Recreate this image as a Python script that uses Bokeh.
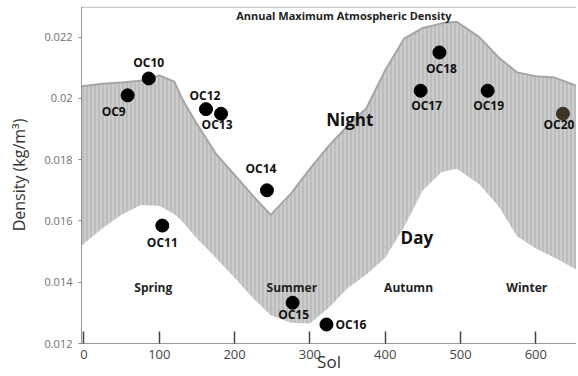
from bokeh.plotting import figure
from bokeh.models import ColumnDataSource, Range1d, FixedTicker, Span
from bokeh.core.properties import value
from bokeh.embed import file_html
from bokeh.resources import INLINE

# ---- data ----
sol_grid = [-3, 25, 50, 75, 100, 120, 130, 150, 175, 200, 225, 248, 275, 300, 325,
            350, 375, 400, 425, 450, 475, 495, 525, 550, 575, 600, 625, 655]
band_upper = [0.0204, 0.02048, 0.02052, 0.02058, 0.02075, 0.02055, 0.0200, 0.01916,
              0.0182, 0.0175, 0.0168, 0.0162, 0.0169, 0.0177, 0.01845, 0.0191,
              0.01968, 0.02092, 0.02195, 0.0223, 0.02245, 0.0225, 0.0220, 0.02135,
              0.02085, 0.02072, 0.02068, 0.0204]
band_lower = [0.0152, 0.01577, 0.0162, 0.01652, 0.0165, 0.01622, 0.0160, 0.01543,
              0.0148, 0.01415, 0.01347, 0.01292, 0.01268, 0.01265, 0.01317, 0.0138,
              0.01425, 0.0148, 0.0158, 0.0170, 0.0176, 0.0177, 0.0172, 0.0165,
              0.0155, 0.0151, 0.0148, 0.0144]

oc_names = ["OC9", "OC10", "OC11", "OC12", "OC13", "OC14", "OC15", "OC16",
            "OC17", "OC18", "OC19", "OC20"]
oc_sol = [58, 86, 104, 162, 182, 243, 277, 322, 447, 472, 536, 636]
oc_density = [0.0201, 0.02065, 0.01585, 0.01965, 0.0195, 0.0170, 0.01333, 0.01262,
              0.02025, 0.0215, 0.02025, 0.0195]

x_ticks = [0, 100, 200, 300, 400, 500, 600]
y_ticks = [0.012, 0.014, 0.016, 0.018, 0.02, 0.022]
y_tick_labels = ["0.012", "0.014", "0.016", "0.018", "0.02", "0.022"]

# ---- styling / layout (not data) ----
oc_colors = ["#000000"] * 11 + ["#3d3423"]
label_dx = [-14, 0, 0, -1, -4, -6, 1, 9, 6, 2, 1, -4]
label_dy = [16, -16, 17, -14, 11, -22, 12, 0, 15, 16, 15, 11]
label_align = ["center"] * 7 + ["left"] + ["center"] * 4

FONT = value("Open Sans")

p = figure(width=576, height=375, output_backend="svg", toolbar_location=None,
           x_range=Range1d(-3.3, 654), y_range=Range1d(0.012, 0.023),
           min_border_left=81, min_border_right=0, min_border_top=6,
           min_border_bottom=31)
p.outline_line_color = None
p.grid.visible = False
p.background_fill_color = "white"

# band of daily density variation
p.varea(x=sol_grid, y1=band_lower, y2=band_upper, fill_color="#cccccc",
        hatch_pattern="vertical_line", hatch_color="#8a8a8a", hatch_alpha=0.45,
        hatch_scale=4, hatch_weight=1)
p.line(sol_grid, band_upper, line_color="#a5a5a5", line_width=2)

src = ColumnDataSource(dict(x=oc_sol, y=oc_density, name=oc_names, color=oc_colors,
                            dx=label_dx, dy=label_dy, align=label_align))
p.scatter("x", "y", source=src, size=13, fill_color="color", line_color="color")
p.text("x", "y", text="name", source=src, x_offset="dx", y_offset="dy",
       text_align="align", text_baseline="middle", text_font=FONT,
       text_font_style="bold", text_font_size="12px", text_color="#111111")

ann_text = ["Night", "Day"]
p.text(x=[353, 442], y=[0.01932, 0.01545], text=ann_text, text_align="center",
       text_baseline="middle", text_font=FONT, text_font_style="bold",
       text_font_size="17px", text_color="#111111")
season_text = ["Spring", "Summer", "Autumn", "Winter"]
p.text(x=[92, 276, 431, 588], y=[0.01382] * 4, text=season_text, text_align="center",
       text_baseline="middle", text_font=FONT, text_font_style="bold",
       text_font_size="12px", text_color="#222222")
p.text(x=[345], y=[0.0227], text=["Annual Maximum Atmospheric Density"],
       text_align="center", text_baseline="middle", text_font=FONT,
       text_font_style="bold", text_font_size="11px", text_color="#222222")

p.add_layout(Span(location=0.02298, dimension="width", line_color="#aaaaaa",
                  line_width=1))

# axes
xa = p.xaxis[0]
xa.ticker = FixedTicker(ticks=x_ticks)
xa.minor_tick_line_color = None
xa.major_tick_in = 12
xa.major_tick_out = 0
xa.major_tick_line_color = "#444444"
xa.major_tick_line_width = 1.5
xa.axis_line_color = "#999999"
xa.major_label_text_font = "Open Sans"
xa.major_label_text_font_size = "13px"
xa.major_label_text_color = "#444444"
xa.major_label_standoff = 6
xa.axis_label = "Sol"
xa.axis_label_text_font = "Open Sans"
xa.axis_label_text_font_style = "normal"
xa.axis_label_text_font_size = "17px"
xa.axis_label_text_color = "#333333"
xa.axis_label_standoff = -12

ya = p.yaxis[0]
ya.ticker = FixedTicker(ticks=y_ticks)
ya.major_label_overrides = {t: l for t, l in zip(y_ticks, y_tick_labels)}
ya.minor_tick_line_color = None
ya.major_tick_in = 0
ya.major_tick_out = 3
ya.major_tick_line_color = "#888888"
ya.axis_line_color = "#999999"
ya.major_label_text_font = "Open Sans"
ya.major_label_text_font_size = "11px"
ya.major_label_text_color = "#707070"
ya.major_label_standoff = 6
ya.axis_label = "Density (kg/m³)"
ya.axis_label_text_font = "Open Sans"
ya.axis_label_text_font_style = "normal"
ya.axis_label_text_font_size = "16px"
ya.axis_label_text_color = "#333333"
ya.axis_label_standoff = 11

open("out.html", "w").write(file_html(p, INLINE))
